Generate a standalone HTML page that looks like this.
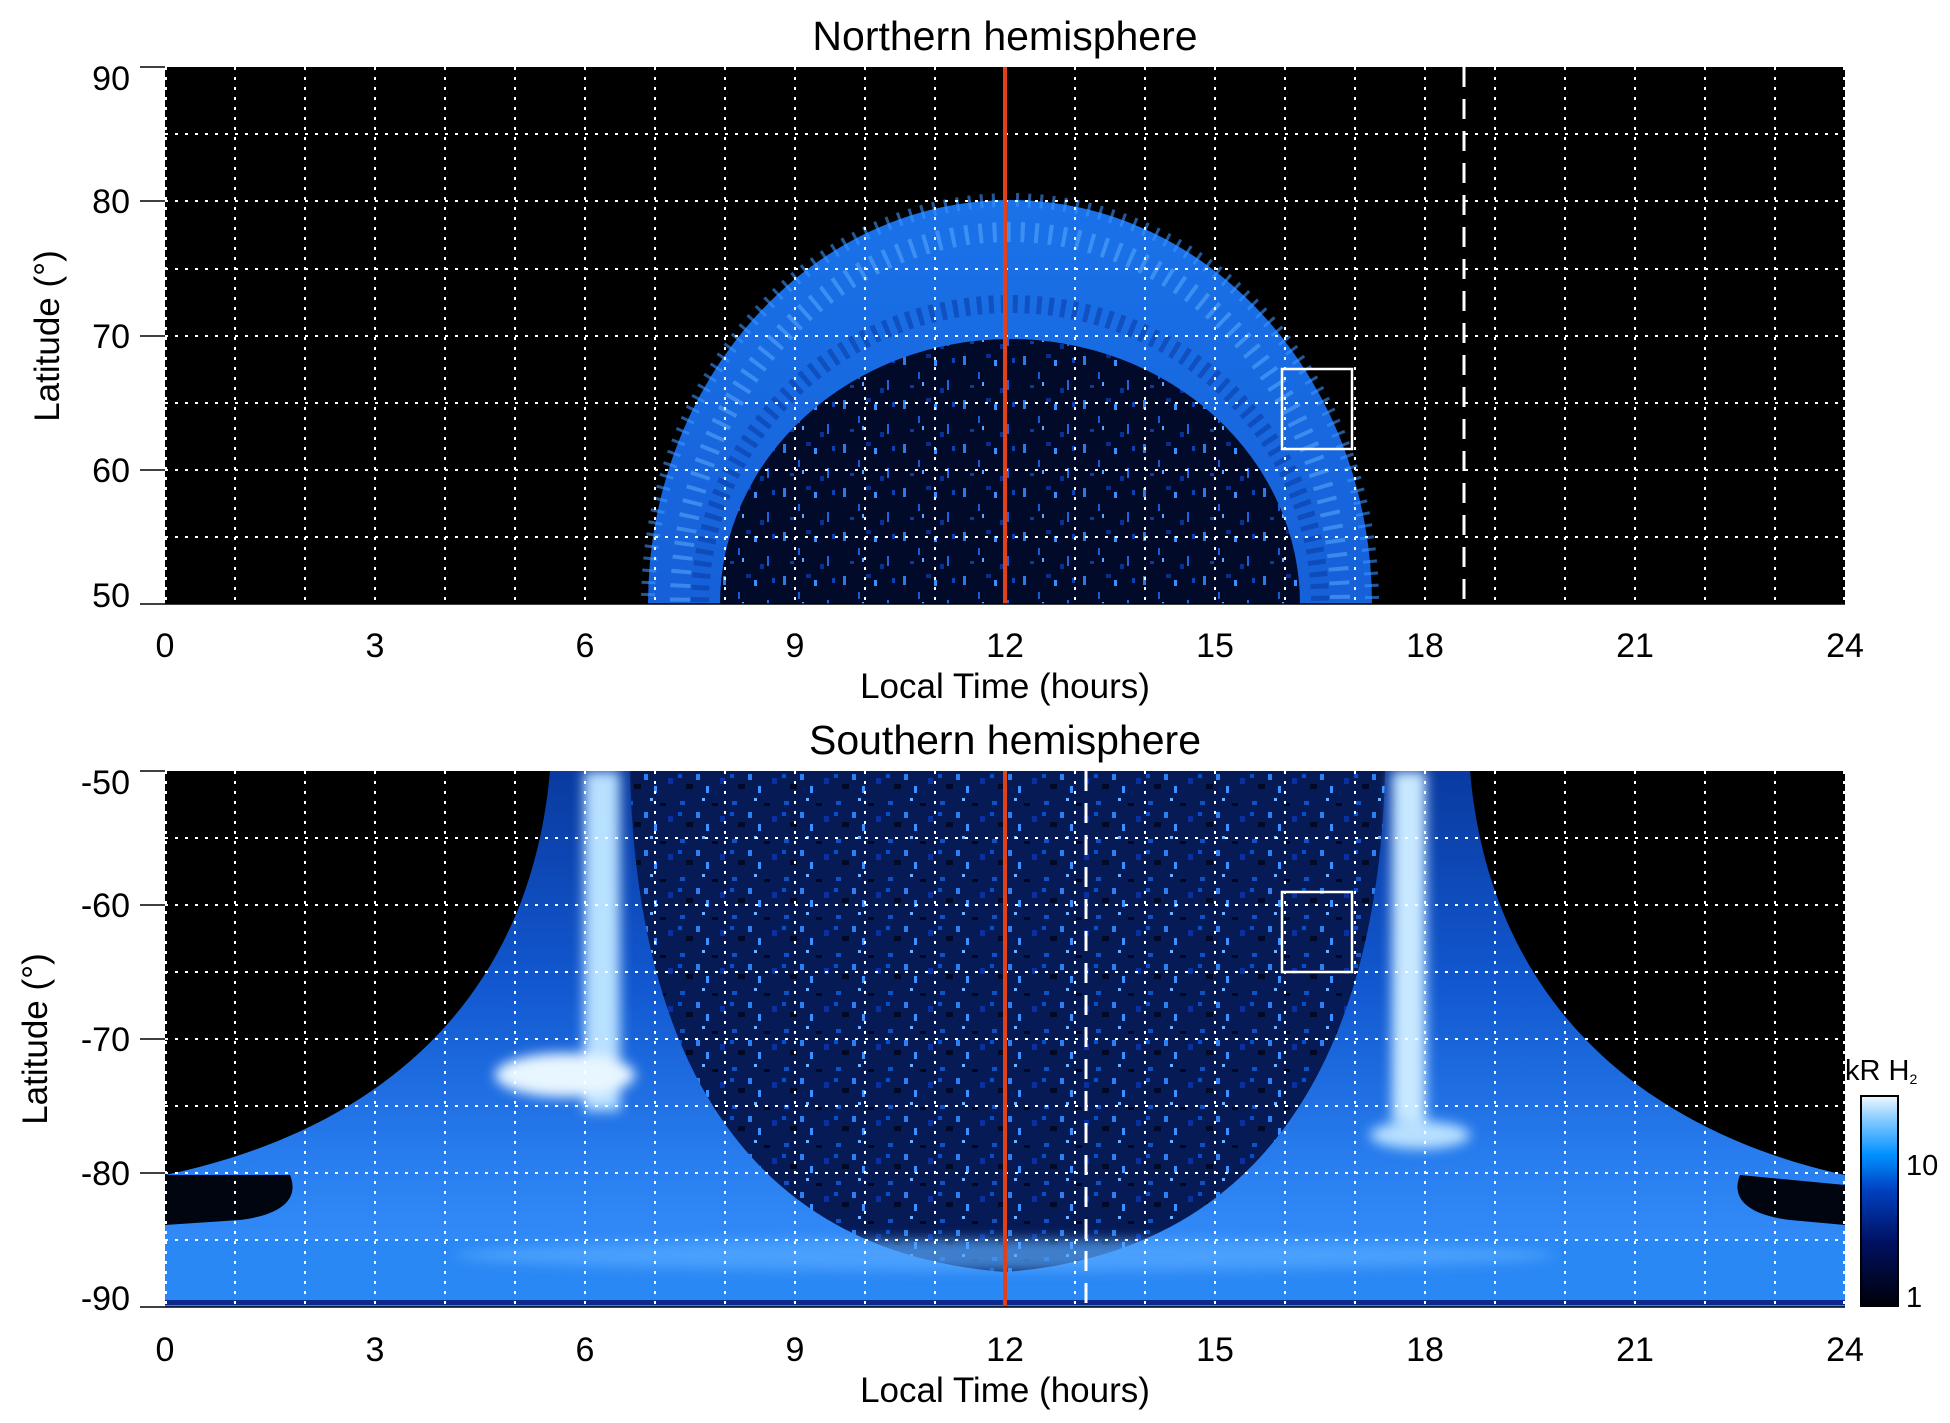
<!DOCTYPE html>
<html><head><meta charset="utf-8"><style>
html,body{margin:0;padding:0;background:#fff}
svg{display:block}
text{font-family:"Liberation Sans",Arial,sans-serif;fill:#000}
</style></head><body>
<svg width="1950" height="1423" viewBox="0 0 1950 1423" xmlns="http://www.w3.org/2000/svg">
<defs>
<linearGradient id="cb" x1="0" y1="1" x2="0" y2="0">
<stop offset="0" stop-color="#000008"/><stop offset="0.3" stop-color="#001060"/>
<stop offset="0.55" stop-color="#0040c0"/><stop offset="0.72" stop-color="#0090ff"/>
<stop offset="0.88" stop-color="#80c8ff"/><stop offset="1" stop-color="#f0f8ff"/>
</linearGradient>
<pattern id="spk" width="60" height="44" patternUnits="userSpaceOnUse">
<rect width="60" height="44" fill="#020a2a"/>
<rect x="3" y="4" width="3" height="9" fill="#2a7ae8"/>
<rect x="18" y="20" width="2" height="7" fill="#1a5cd0"/>
<rect x="34" y="8" width="3" height="6" fill="#3a90ff"/>
<rect x="47" y="28" width="2" height="10" fill="#1f66dd"/>
<rect x="10" y="33" width="4" height="3" fill="#0c3aa0"/>
<rect x="26" y="2" width="5" height="4" fill="#0a2e88"/>
<rect x="52" y="6" width="3" height="5" fill="#0d40b0"/>
<rect x="40" y="36" width="4" height="5" fill="#0a3090"/>
<rect x="22" y="30" width="2" height="4" fill="#5aa8ff"/>
</pattern>
<pattern id="spk2" width="52" height="38" patternUnits="userSpaceOnUse">
<rect width="52" height="38" fill="#061a55"/>
<rect x="4" y="3" width="5" height="4" fill="#1050c0"/>
<rect x="20" y="14" width="4" height="6" fill="#2a80f0"/>
<rect x="36" y="5" width="6" height="3" fill="#000820"/>
<rect x="10" y="24" width="7" height="5" fill="#000a28"/>
<rect x="30" y="26" width="3" height="7" fill="#3c90ff"/>
<rect x="44" y="18" width="5" height="6" fill="#0a30a0"/>
<rect x="2" y="14" width="4" height="4" fill="#0050d0"/>
<rect x="26" y="0" width="3" height="3" fill="#6ab0ff"/>
</pattern>
<linearGradient id="band" x1="0" y1="0" x2="0" y2="1">
<stop offset="0" stop-color="#1a72e8"/><stop offset="0.5" stop-color="#1660d8"/><stop offset="1" stop-color="#0c48c0"/>
</linearGradient>
<linearGradient id="wing" x1="0" y1="0" x2="0" y2="1">
<stop offset="0" stop-color="#0a3aa0"/><stop offset="0.4" stop-color="#1258d0"/><stop offset="0.75" stop-color="#2a80f0"/><stop offset="1" stop-color="#3a94ff"/>
</linearGradient>
<filter id="bl"><feGaussianBlur stdDeviation="6"/></filter>
<clipPath id="c1"><rect x="165" y="67" width="1680" height="537"/></clipPath>
<clipPath id="c2"><rect x="165" y="771" width="1680" height="536"/></clipPath>
</defs>

<!-- TOP PANEL -->
<text x="1005" y="50" font-size="41" text-anchor="middle">Northern hemisphere</text>
<g clip-path="url(#c1)">
<rect x="165" y="67" width="1680" height="537" fill="#000"/>
<ellipse cx="1010" cy="604" rx="362" ry="404" fill="url(#band)"/>
<ellipse cx="1010" cy="604" rx="362" ry="404" fill="none" stroke="#3b94ff" stroke-width="14" stroke-dasharray="3 9" opacity="0.6"/>
<ellipse cx="1010" cy="604" rx="330" ry="372" fill="none" stroke="#60b0ff" stroke-width="20" stroke-dasharray="4 10" opacity="0.5"/>
<ellipse cx="1010" cy="604" rx="310" ry="300" fill="none" stroke="#0a3ea8" stroke-width="18" stroke-dasharray="5 7" opacity="0.6"/>
<ellipse cx="1010" cy="604" rx="290" ry="265" fill="url(#spk)"/>
<rect x="1282" y="369" width="70" height="80" fill="none" stroke="#fff" stroke-width="2.5"/>
<line x1="1464" y1="67" x2="1464" y2="604" stroke="#fff" stroke-width="3" stroke-dasharray="20 12"/>
<g stroke="#fff" stroke-width="2" stroke-dasharray="3 7">
<line x1="165" y1="134" x2="1845" y2="134"/><line x1="165" y1="201" x2="1845" y2="201"/>
<line x1="165" y1="269" x2="1845" y2="269"/><line x1="165" y1="336" x2="1845" y2="336"/>
<line x1="165" y1="403" x2="1845" y2="403"/><line x1="165" y1="470" x2="1845" y2="470"/>
<line x1="165" y1="537" x2="1845" y2="537"/>
</g>
<g stroke="#fff" stroke-width="2" stroke-dasharray="3 7" id="vg1">
<line x1="166" y1="67" x2="166" y2="604"/><line x1="235" y1="67" x2="235" y2="604"/><line x1="305" y1="67" x2="305" y2="604"/><line x1="375" y1="67" x2="375" y2="604"/><line x1="445" y1="67" x2="445" y2="604"/><line x1="515" y1="67" x2="515" y2="604"/><line x1="585" y1="67" x2="585" y2="604"/><line x1="655" y1="67" x2="655" y2="604"/><line x1="725" y1="67" x2="725" y2="604"/><line x1="795" y1="67" x2="795" y2="604"/><line x1="865" y1="67" x2="865" y2="604"/><line x1="935" y1="67" x2="935" y2="604"/><line x1="1075" y1="67" x2="1075" y2="604"/><line x1="1145" y1="67" x2="1145" y2="604"/><line x1="1215" y1="67" x2="1215" y2="604"/><line x1="1285" y1="67" x2="1285" y2="604"/><line x1="1355" y1="67" x2="1355" y2="604"/><line x1="1425" y1="67" x2="1425" y2="604"/><line x1="1495" y1="67" x2="1495" y2="604"/><line x1="1565" y1="67" x2="1565" y2="604"/><line x1="1635" y1="67" x2="1635" y2="604"/><line x1="1705" y1="67" x2="1705" y2="604"/><line x1="1775" y1="67" x2="1775" y2="604"/><line x1="1844" y1="67" x2="1844" y2="604"/>
</g>
<line x1="1005" y1="67" x2="1005" y2="604" stroke="#e0401a" stroke-width="4"/>
</g>
<g stroke="#000" stroke-width="1.5">
<line x1="140" y1="67" x2="165" y2="67"/><line x1="140" y1="201" x2="165" y2="201"/><line x1="140" y1="336" x2="165" y2="336"/><line x1="140" y1="470" x2="165" y2="470"/><line x1="140" y1="604" x2="165" y2="604"/>
<line x1="165" y1="604" x2="1845" y2="604"/>
</g>
<text font-size="34" text-anchor="end">
<tspan x="130" y="90">90</tspan><tspan x="130" y="213">80</tspan><tspan x="130" y="348">70</tspan><tspan x="130" y="482">60</tspan><tspan x="130" y="607">50</tspan></text>
<text font-size="34" text-anchor="middle">
<tspan x="165" y="657">0</tspan><tspan x="375" y="657">3</tspan><tspan x="585" y="657">6</tspan><tspan x="795" y="657">9</tspan><tspan x="1005" y="657">12</tspan><tspan x="1215" y="657">15</tspan><tspan x="1425" y="657">18</tspan><tspan x="1635" y="657">21</tspan><tspan x="1845" y="657">24</tspan></text>
<text x="1005" y="698" font-size="35" text-anchor="middle">Local Time (hours)</text>
<text transform="translate(59,336) rotate(-90)" font-size="35" text-anchor="middle">Latitude (°)</text>

<!-- BOTTOM PANEL -->
<text x="1005" y="754" font-size="41" text-anchor="middle">Southern hemisphere</text>
<g clip-path="url(#c2)">
<rect x="165" y="771" width="1680" height="536" fill="#000"/>
<path d="M550,771 C530,1000 380,1130 165,1175 L165,1307 L1845,1307 L1845,1175 C1640,1130 1490,1000 1470,771 Z" fill="url(#wing)"/>
<rect x="165" y="1240" width="1680" height="67" fill="#2a88f5"/>
<path d="M165,1175 L290,1175 C300,1200 280,1215 240,1220 L165,1225 Z" fill="#000510"/>
<path d="M1845,1185 L1740,1175 C1730,1200 1750,1215 1790,1220 L1845,1225 Z" fill="#000510"/>
<path d="M630,771 L1385,771 C1380,1000 1300,1250 1005,1272 C710,1250 635,1000 630,771 Z" fill="url(#spk2)"/>
<g filter="url(#bl)">
<rect x="584" y="771" width="36" height="340" fill="#b8e0ff"/>
<ellipse cx="565" cy="1075" rx="70" ry="22" fill="#e8f6ff"/>
<rect x="1392" y="771" width="34" height="350" fill="#c8e8ff"/>
<ellipse cx="1420" cy="1135" rx="50" ry="14" fill="#b8e0ff"/>
<ellipse cx="1005" cy="1255" rx="550" ry="16" fill="#58aaff" opacity="0.7"/>
</g>
<rect x="165" y="1300" width="1680" height="5" fill="#0a2a90"/>
<rect x="1282" y="892" width="70" height="80" fill="none" stroke="#fff" stroke-width="2.5"/>
<line x1="1086" y1="771" x2="1086" y2="1307" stroke="#fff" stroke-width="3" stroke-dasharray="20 12"/>
<g stroke="#fff" stroke-width="2" stroke-dasharray="3 7">
<line x1="165" y1="838" x2="1845" y2="838"/><line x1="165" y1="905" x2="1845" y2="905"/>
<line x1="165" y1="972" x2="1845" y2="972"/><line x1="165" y1="1039" x2="1845" y2="1039"/>
<line x1="165" y1="1106" x2="1845" y2="1106"/><line x1="165" y1="1173" x2="1845" y2="1173"/>
<line x1="165" y1="1240" x2="1845" y2="1240"/>
</g>
<use href="#vg1" transform="translate(0,704)"/>
<line x1="1005" y1="771" x2="1005" y2="1307" stroke="#e0401a" stroke-width="4"/>
</g>
<g stroke="#000" stroke-width="1.5">
<line x1="140" y1="771" x2="165" y2="771"/><line x1="140" y1="905" x2="165" y2="905"/><line x1="140" y1="1039" x2="165" y2="1039"/><line x1="140" y1="1173" x2="165" y2="1173"/><line x1="140" y1="1307" x2="165" y2="1307"/>
<line x1="165" y1="1307" x2="1845" y2="1307"/>
</g>
<text font-size="34" text-anchor="end">
<tspan x="130" y="794">-50</tspan><tspan x="130" y="917">-60</tspan><tspan x="130" y="1051">-70</tspan><tspan x="130" y="1185">-80</tspan><tspan x="130" y="1310">-90</tspan></text>
<text font-size="34" text-anchor="middle">
<tspan x="165" y="1361">0</tspan><tspan x="375" y="1361">3</tspan><tspan x="585" y="1361">6</tspan><tspan x="795" y="1361">9</tspan><tspan x="1005" y="1361">12</tspan><tspan x="1215" y="1361">15</tspan><tspan x="1425" y="1361">18</tspan><tspan x="1635" y="1361">21</tspan><tspan x="1845" y="1361">24</tspan></text>
<text x="1005" y="1402" font-size="35" text-anchor="middle">Local Time (hours)</text>
<text transform="translate(47,1039) rotate(-90)" font-size="35" text-anchor="middle">Latitude (°)</text>

<!-- colorbar -->
<text x="1845" y="1080" font-size="29">kR H<tspan font-size="14" dy="4">2</tspan></text>
<rect x="1861" y="1096" width="37" height="210" fill="url(#cb)" stroke="#000" stroke-width="2"/>
<text x="1906" y="1175" font-size="29">10</text>
<text x="1906" y="1307" font-size="29">1</text>
</svg>
</body></html>
